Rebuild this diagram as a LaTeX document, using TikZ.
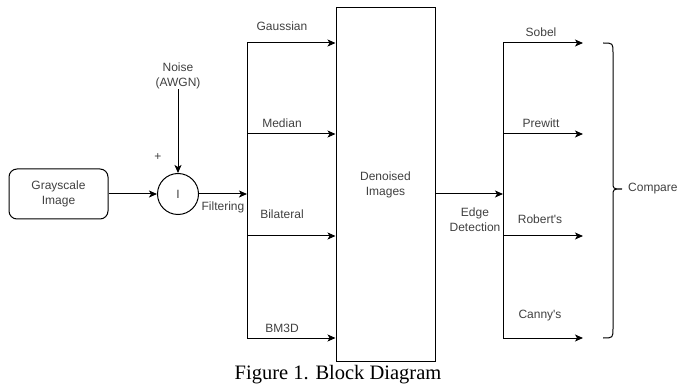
\documentclass[tikz,border=0pt]{standalone}
\usepackage{fontspec}
\setmainfont{Liberation Serif}
\newfontfamily\labelfont{Liberation Sans}
\usepackage{xcolor}
\usetikzlibrary{arrows.meta,calc,positioning}
\definecolor{labelgray}{HTML}{404040}
\tikzset{
  arr/.style={-{Stealth[length=8pt,width=7pt,inset=2pt]}, line width=1pt},
  lbl/.style={font=\labelfont\fontsize{12}{15}\selectfont, text=labelgray, align=center, inner sep=0pt},
  blk/.style={lbl, draw=black, line width=1pt}
}

\begin{document}
\begin{tikzpicture}[x=1pt,y=-1pt]
        \useasboundingbox (0,0) rectangle (683,390);
        % Input image and the noise adder
        \node[blk, rounded corners=8pt, minimum width=99pt, minimum height=50pt] (gray) at (58.5,194) {Grayscale\\Image};
        \node[blk, circle, minimum size=41pt] (sum) at (178,194) {I};
        \node[lbl] (noise) at (178,76) {Noise\\(AWGN)};
        \node[lbl] (plus) at (158,157) {+};
        \draw[arr] (gray.east) -- (sum.west);
        \draw[arr] (noise.south) -- (sum.north);
        % Filter bank
        \coordinate (fsplit) at (247,194);
        \coordinate (f1) at (247,43);
        \coordinate (f2) at (247,134);
        \coordinate (f3) at (247,236);
        \coordinate (f4) at (247,338);
        \node[blk, minimum width=99pt, minimum height=353pt] (den) at (385.5,184.5) {Denoised\\Images};
        \draw[arr] (sum.east) -- (fsplit) node[lbl, midway, below=7pt] (filt) {Filtering};
        \draw[line width=1pt] (f1) -- (f4);
        \draw[arr] (f1) -- (f1 -| den.west);
        \draw[arr] (f2) -- (f2 -| den.west);
        \draw[arr] (f3) -- (f3 -| den.west);
        \draw[arr] (f4) -- (f4 -| den.west);
        \node[lbl] (gauss) at (282,26) {Gaussian};
        \node[lbl] (median) at (282,123) {Median};
        \node[lbl] (bilat) at (282,214) {Bilateral};
        \node[lbl] (bm3d) at (282,328) {BM3D};
        % Edge detectors
        \coordinate (esplit) at (503,194);
        \coordinate (e1) at (503,43);
        \coordinate (e4) at (503,338);
        \coordinate (sobel) at (583,43);
        \coordinate (prewitt) at (583,134);
        \coordinate (roberts) at (583,236);
        \coordinate (canny) at (583,338);
        \draw[arr] (den.east |- esplit) -- (esplit);
        \node[lbl] (edge) at (475,220) {Edge\\Detection};
        \draw[line width=1pt] (e1) -- (e4);
        \draw[arr] (e1) -- (sobel);
        \draw[arr] (prewitt -| e1) -- (prewitt);
        \draw[arr] (roberts -| e1) -- (roberts);
        \draw[arr] (e4) -- (canny);
        \node[lbl] (sobellbl) at (541,32) {Sobel};
        \node[lbl] (prewittlbl) at (541,123) {Prewitt};
        \node[lbl] (robertslbl) at (540,219) {Robert's};
        \node[lbl] (cannylbl) at (540,316) {Canny's};
        % Curly bracket and comparison
        \coordinate (tip) at (622,189);
        \draw[line width=1pt] (603,43) .. controls (613,43) .. (613,53) -- (613,182)
              .. controls (613,189) .. (tip) .. controls (613,189) .. (613,196)
              -- (613,328) .. controls (613,338) .. (603,338);
        \node[lbl, right=6pt of tip] (cmp) {Compare};
        % Caption
        \node[inner sep=0pt, font=\fontsize{20.5}{24}\selectfont] (cap) at (338,375) {Figure 1. Block Diagram};
\end{tikzpicture}
\end{document}
